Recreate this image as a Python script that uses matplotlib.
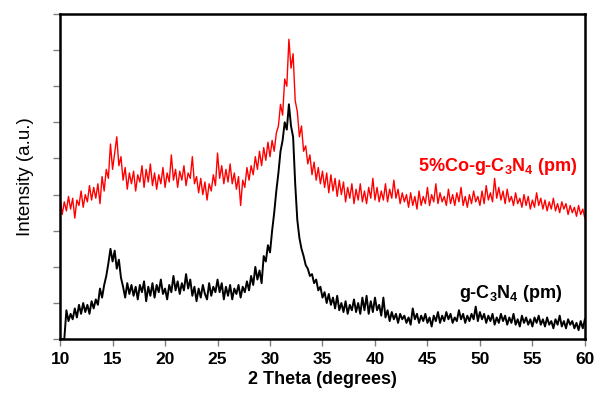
import numpy as np
import matplotlib
matplotlib.use("Agg")
import matplotlib.pyplot as plt

plt.rcParams["font.family"] = ["Liberation Sans", "DejaVu Sans"]
plt.rcParams["mathtext.default"] = "regular"

# 2 theta grid, 0.2 degree steps from 10 to 60
two_theta = np.arange(10.0, 60.0001, 0.2)

# 5%Co-g-C3N4 (pm) (arbitrary units, one tick = 1)
co_gcn = [
    3.9, 3.45, 3.8, 3.55, 3.95, 3.6, 3.9, 3.35, 3.85, 3.7,
    4.1, 3.65, 4.0, 3.8, 4.25, 3.85, 4.2, 3.9, 4.3, 3.75,
    4.5, 4.1, 4.7, 4.45, 5.4, 4.7, 5.15, 5.6, 4.8, 5.05,
    4.4, 4.75, 4.15, 4.6, 4.3, 4.65, 4.1, 4.55, 4.35, 4.8,
    4.2, 4.7, 4.35, 4.85, 4.25, 4.6, 4.15, 4.55, 4.3, 4.75,
    4.2, 4.6, 4.35, 5.1, 4.4, 4.7, 4.2, 4.65, 4.4, 4.8,
    4.25, 4.6, 4.45, 5.05, 4.3, 4.5, 4.05, 4.45, 4.0, 4.35,
    3.85, 4.3, 4.1, 4.55, 4.25, 5.15, 4.45, 4.8, 4.3, 4.7,
    4.35, 4.85, 4.3, 4.6, 4.15, 4.5, 3.7, 4.4, 4.2, 4.75,
    4.4, 4.8, 4.55, 5.05, 4.7, 5.2, 4.8, 5.3, 4.95, 5.45,
    5.05, 5.5, 5.2, 5.7, 5.9, 6.5, 6.2, 7.2, 7.0, 8.3,
    7.5, 7.9, 6.6, 6.3, 5.6, 5.9, 5.2, 5.35, 4.85, 5.1,
    4.55, 4.9, 4.4, 4.75, 4.3, 4.65, 4.2, 4.6, 4.05, 4.55,
    4.1, 4.45, 3.95, 4.4, 4.0, 4.35, 3.8, 4.2, 3.9, 4.3,
    3.75, 4.15, 3.85, 4.3, 3.8, 4.1, 3.75, 4.2, 3.9, 4.45,
    3.85, 4.2, 3.8, 4.1, 3.85, 4.3, 3.8, 4.15, 3.9, 4.4,
    3.9, 4.15, 3.75, 4.05, 3.8, 4.0, 3.65, 4.05, 3.7, 3.95,
    3.6, 4.1, 3.7, 3.95, 3.75, 4.2, 3.7, 4.0, 3.8, 4.3,
    3.75, 4.05, 3.8, 3.95, 3.7, 4.15, 3.75, 4.0, 3.7, 4.05,
    3.8, 4.2, 3.7, 3.95, 3.65, 4.0, 3.75, 4.1, 3.8, 3.95,
    3.7, 4.1, 3.75, 4.25, 3.85, 4.05, 3.8, 4.45, 3.9, 4.2,
    3.85, 4.1, 3.75, 4.15, 3.8, 3.95, 3.7, 4.05, 3.75, 3.9,
    3.65, 4.0, 3.7, 3.95, 3.6, 3.85, 3.65, 4.05, 3.7, 3.9,
    3.6, 3.85, 3.55, 3.8, 3.6, 3.9, 3.55, 3.75, 3.5, 3.8,
    3.6, 3.75, 3.45, 3.7, 3.5, 3.65, 3.4, 3.7, 3.45, 3.6,
    3.35,
]

# g-C3N4 (pm)
gcn = [
    0, 0, 0, 0.8, 0.5, 0.7, 0.55, 0.85, 0.6, 0.95,
    0.7, 1.0, 0.75, 0.95, 0.7, 1.05, 0.85, 1.1, 0.95, 1.4,
    1.15, 1.5, 1.75, 2.1, 2.5, 2.15, 2.45, 1.95, 2.2, 1.7,
    1.45, 1.15, 1.55, 1.25, 1.5, 1.2, 1.45, 1.1, 1.5, 1.3,
    1.6, 1.05, 1.45, 1.2, 1.55, 1.15, 1.5, 1.3, 1.65, 1.25,
    1.4, 1.1, 1.5, 1.3, 1.75, 1.35, 1.6, 1.25, 1.55, 1.35,
    1.8, 1.4, 1.65, 1.2, 1.45, 1.05, 1.4, 1.15, 1.5, 1.25,
    1.1, 1.55, 1.2, 1.45, 1.3, 1.65, 1.3, 1.55, 1.1, 1.45,
    1.2, 1.5, 1.1, 1.4, 1.25, 1.5, 1.15, 1.45, 1.3, 1.6,
    1.35, 1.75, 1.5, 2.0, 1.65, 1.9, 1.55, 2.3, 2.15, 2.6,
    2.4, 3.0, 3.5, 4.1, 4.6, 5.2, 5.5, 6.0, 5.8, 6.5,
    5.9, 5.6, 4.3, 3.3, 2.8, 2.5, 2.3, 2.05, 1.95, 1.75,
    1.8, 1.55, 1.65, 1.35, 1.45, 1.15, 1.3, 1.0, 1.25, 0.95,
    1.15, 0.85, 1.2, 0.8, 1.0, 0.75, 1.05, 0.7, 0.95, 0.8,
    1.1, 0.75, 1.0, 0.7, 1.15, 0.8, 1.2, 0.7, 1.05, 0.75,
    1.15, 0.8, 0.95, 0.65, 1.15, 0.6, 0.8, 0.5, 0.75, 0.55,
    0.7, 0.45, 0.7, 0.55, 0.65, 0.45, 0.6, 0.4, 0.85, 0.55,
    0.7, 0.45, 0.65, 0.5, 0.7, 0.45, 0.6, 0.35, 0.65, 0.5,
    0.75, 0.45, 0.65, 0.5, 0.75, 0.55, 0.7, 0.45, 0.6, 0.5,
    0.8, 0.55, 0.7, 0.45, 0.65, 0.5, 0.7, 0.55, 0.9, 0.5,
    0.75, 0.55, 0.7, 0.45, 0.65, 0.5, 0.7, 0.4, 0.6, 0.45,
    0.7, 0.5, 0.65, 0.4, 0.6, 0.45, 0.7, 0.4, 0.55, 0.35,
    0.65, 0.45, 0.6, 0.4, 0.55, 0.35, 0.6, 0.45, 0.65, 0.4,
    0.55, 0.35, 0.6, 0.4, 0.5, 0.3, 0.55, 0.4, 0.65, 0.35,
    0.5, 0.3, 0.55, 0.4, 0.5, 0.3, 0.45, 0.25, 0.5, 0.3,
    0.55,
]

x_ticks = list(range(10, 61, 5))
labels = ["5%Co-g-C$_3$N$_4$ (pm)", "g-C$_3$N$_4$ (pm)"]

fig = plt.figure(figsize=(5.95, 3.99), dpi=100)
ax = fig.add_axes([0.101, 0.150, 0.882, 0.815])

ax.plot(two_theta, co_gcn, color="#ff0000", lw=1.0)
ax.plot(two_theta, gcn, color="black", lw=1.4)

ax.text(51.7, 4.78, labels[0], color="#ff0000", fontsize=13, fontweight="bold",
        ha="center", va="center")
ax.text(52.95, 1.25, labels[1], color="black", fontsize=13, fontweight="bold",
        ha="center", va="center")

ax.set_xlim(10, 60)
ax.set_ylim(0, 9)
ax.set_xticks(x_ticks)
ax.set_yticks(range(0, 10))
ax.set_yticklabels([])
ax.tick_params(axis="both", direction="out", length=5, width=1, color="#808080")
ax.tick_params(axis="x", labelsize=12.5, pad=4)
for lab in ax.get_xticklabels():
    lab.set_fontweight("bold")

ax.set_xlabel("2 Theta (degrees)", fontsize=13, fontweight="bold", labelpad=3)
ax.set_ylabel("Intensity (a.u.)", fontsize=13.5, labelpad=10)

for sp in ax.spines.values():
    sp.set_linewidth(1.8)
    sp.set_color("black")

fig.savefig("out.png", dpi=100)
